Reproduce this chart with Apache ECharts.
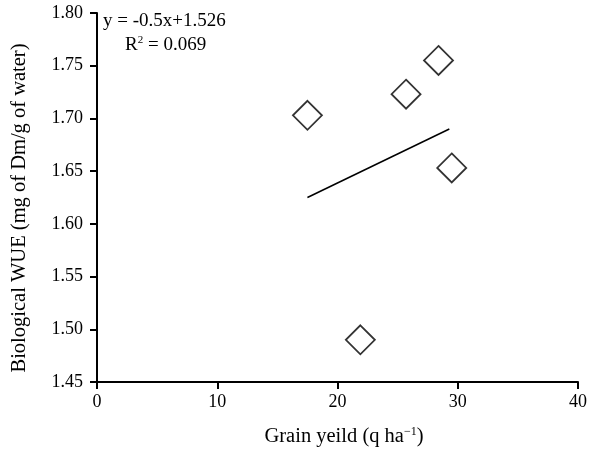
<!DOCTYPE html>
<html><head><meta charset="utf-8">
<script src="https://cdn.jsdelivr.net/npm/echarts@6/dist/echarts.min.js"></script>
<style>html,body{margin:0;padding:0;background:#fff}#c{width:595px;height:449px}</style>
</head><body><div id="c"></div>
<script>
const grainYield = [17.5, 25.7, 28.4, 29.5, 21.9];
const biologicalWUE = [1.703, 1.723, 1.755, 1.653, 1.490];
const trendX = [17.5, 29.3];
const trendY = [1.625, 1.690];
const xTicks = [0, 10, 20, 30, 40];
const yTicks = [1.45, 1.50, 1.55, 1.60, 1.65, 1.70, 1.75, 1.80];
const eqLine1 = 'y = -0.5x+1.526';
const eqR2 = '0.069';
const xTitle = ['Grain yeild (q ha', '−1', ')'];
const yTitle = 'Biological WUE (mg of Dm/g of water)';

const font = 'Liberation Serif';
const chart = echarts.init(document.getElementById('c'), null, {renderer: 'canvas'});
chart.setOption({
  animation: false,
  backgroundColor: '#fff',
  grid: {left: 97, right: 17, top: 13, bottom: 67},
  xAxis: {
    type: 'value', min: xTicks[0], max: xTicks[xTicks.length - 1], interval: 10,
    splitLine: {show: false},
    axisLine: {lineStyle: {color: '#000', width: 2}},
    axisTick: {show: true, length: 7, lineStyle: {color: '#000', width: 2}},
    axisLabel: {color: '#000', fontFamily: font, fontSize: 18, margin: 11}
  },
  yAxis: {
    type: 'value', min: yTicks[0], max: yTicks[yTicks.length - 1], interval: 0.05,
    splitLine: {show: false},
    axisLine: {show: true, lineStyle: {color: '#000', width: 2}},
    axisTick: {show: true, length: 7, lineStyle: {color: '#000', width: 2}},
    axisLabel: {color: '#000', fontFamily: font, fontSize: 18, margin: 14,
      formatter: v => v.toFixed(2)}
  },
  graphic: [
    {type: 'text', left: 103, top: 12, style: {text: eqLine1, fontFamily: font, fontSize: 19, fill: '#000'}},
    {type: 'text', left: 125, top: 35, style: {
      text: '{a|R}{s|2}{a| = ' + eqR2 + '}',
      rich: {
        a: {fontFamily: font, fontSize: 19, fill: '#000'},
        s: {fontFamily: font, fontSize: 11, fill: '#000', verticalAlign: 'top', padding: [0, 0, 9, 0]}
      }
    }},
    {type: 'text', x: 344, y: 437, style: {
      text: '{a|' + xTitle[0] + '}{s|' + xTitle[1] + '}{a|' + xTitle[2] + '}',
      align: 'center', verticalAlign: 'middle',
      rich: {
        a: {fontFamily: font, fontSize: 20.5, fill: '#000'},
        s: {fontFamily: font, fontSize: 12, fill: '#000', verticalAlign: 'top', padding: [0, 0, 10, 0]}
      }
    }},
    {type: 'text', x: 20, y: 208, rotation: Math.PI / 2, style: {
      text: yTitle, align: 'center', verticalAlign: 'middle',
      fontFamily: font, fontSize: 20.5, fill: '#000'
    }}
  ],
  series: [
    {
      type: 'line', data: trendX.map((x, i) => [x, trendY[i]]),
      symbol: 'none', lineStyle: {color: '#000', width: 1.5}, z: 2
    },
    {
      type: 'scatter', data: grainYield.map((x, i) => [x, biologicalWUE[i]]),
      symbol: 'diamond', symbolSize: 29,
      itemStyle: {color: '#fff', borderColor: '#000', borderWidth: 1.8}, z: 3
    }
  ]
});
</script></body></html>
